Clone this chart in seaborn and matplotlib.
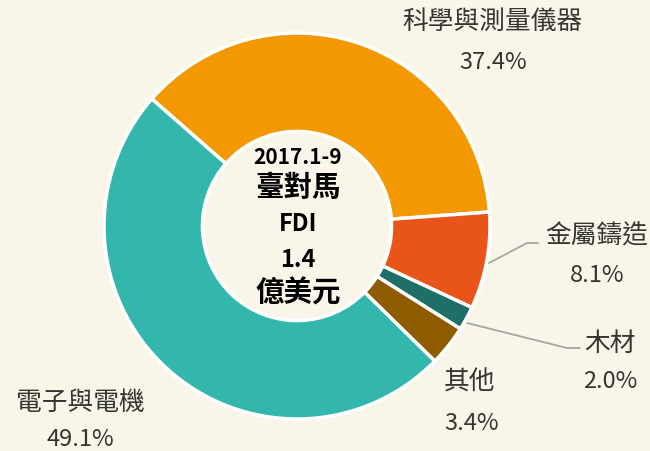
import matplotlib.pyplot as plt
import seaborn as sns

# FDI by industry, Taiwan -> Malaysia, 2017.1-9 (share %)
industries = ["科學與測量儀器", "金屬鑄造", "木材", "其他", "電子與電機"]
shares = [37.4, 8.1, 2.0, 3.4, 49.1]
colors = ["#F39800", "#E95518", "#1E6F68", "#8E5B00", "#33B7AD"]
center_lines = ["2017.1-9", "臺對馬", "FDI", "1.4", "億美元"]

BG = "#F9F6E9"
TXT = "#353530"
LINE = "#A6A6A6"

sns.set_theme(style="white")
plt.rcParams["font.family"] = ["Noto Sans CJK TC", "DejaVu Sans"]

W, H = 650, 451
CX, CY, R = 297, 226, 193

fig = plt.figure(figsize=(W / 100, H / 100), dpi=100, facecolor=BG)
ax = fig.add_axes([(CX - R) / W, (H - CY - R) / H, 2 * R / W, 2 * R / H])
ax.set_facecolor(BG)


def px(x, y):
    # pixel position in the picture -> data coords of the pie axes
    return (x - CX) / R, (CY - y) / R


ax.pie(
    shares,
    colors=colors,
    startangle=138.8,
    counterclock=False,
    radius=1,
    wedgeprops=dict(width=0.51, edgecolor="white", linewidth=2.5),
)
ax.set_xlim(-1, 1)
ax.set_ylim(-1, 1)
ax.set_aspect("equal")
ax.axis("off")

# outside labels: name and share
label_pos = {
    "科學與測量儀器": ((492, 22), (493, 62)),
    "金屬鑄造": ((597, 236), (597, 275)),
    "木材": ((610, 344), (610, 381)),
    "其他": ((470, 383), (472, 423)),
    "電子與電機": ((80, 403), (80, 440)),
}
for name, val in zip(industries, shares):
    (nx, ny), (vx, vy) = label_pos[name]
    ax.text(*px(nx, ny), name, ha="center", va="center", fontsize=18.5,
            color=TXT, clip_on=False)
    ax.text(*px(vx, vy), f"{val:.1f}%", ha="center", va="center", fontsize=17,
            color=TXT, clip_on=False)

# leader lines for the small slices
for pts in ([(489, 263), (527, 243), (538, 243)],
            [(467, 323), (567, 348), (580, 348)]):
    xs, ys = zip(*[px(x, y) for x, y in pts])
    ax.plot(xs, ys, color=LINE, lw=1.3, clip_on=False)

# centre text
center_y = [157, 188, 224, 260, 293]
center_fs = [15, 20.5, 17, 17, 20.5]
for line, y, fs in zip(center_lines, center_y, center_fs):
    ax.text(*px(298, y), line, ha="center", va="center", fontsize=fs,
            fontweight="bold", color="black")

fig.savefig("out.png", dpi=100, facecolor=BG)
